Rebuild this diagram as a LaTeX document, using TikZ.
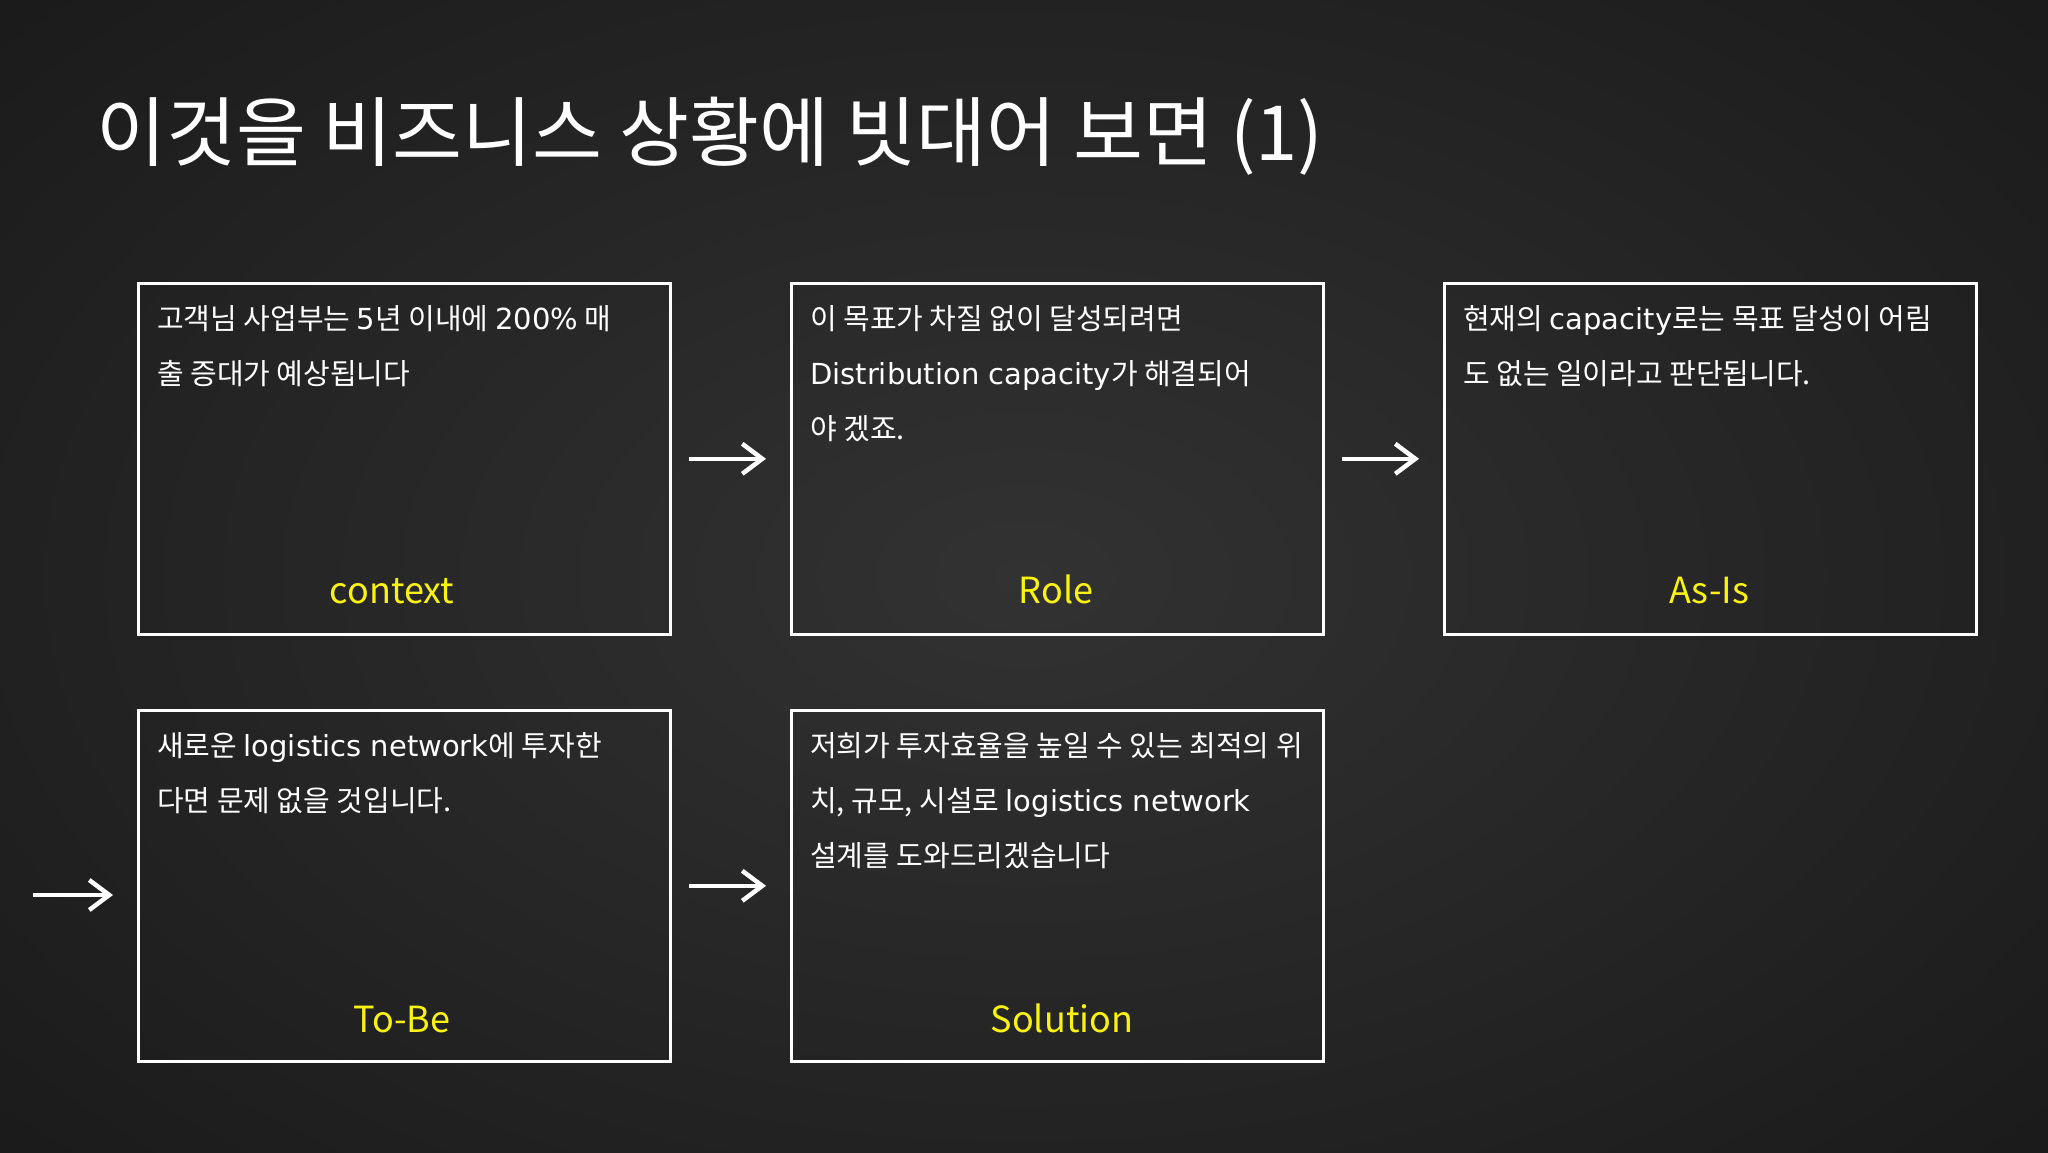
\documentclass[tikz,border=0pt]{standalone}
\usepackage{fontspec}
\setmainfont{Noto Sans CJK KR}
\newfontfamily\latinfont{DejaVu Sans}
\usetikzlibrary{arrows.meta,calc}
\definecolor{board}{RGB}{40,40,40}
\definecolor{boardin}{RGB}{50,50,50}
\definecolor{boardout}{RGB}{26,26,26}
\definecolor{chalkyellow}{RGB}{250,242,20}
\newcommand{\lt}[1]{{\latinfont #1}}
\tikzset{
  x=1pt,y=-1pt,
  panel/.style={draw=white,line width=2.6pt,minimum width=532pt,minimum height=351pt,anchor=north west,inner sep=0pt},
  bodytext/.style={anchor=north west,inner sep=0pt,align=left,text=white,font=\fontsize{29}{55}\selectfont},
  tag/.style={anchor=base,inner sep=0pt,text=chalkyellow,font=\fontsize{36}{40}\selectfont},
  chalkarrow/.style={draw=white,line width=4.5pt,-{Straight Barb[length=20pt,width=30pt,line width=4.5pt]}}
}
\begin{document}
\begin{tikzpicture}
\useasboundingbox (0,0) rectangle (2048,1152);
\fill[board] (0,0) rectangle (2048,1152);
\shade[inner color=boardin,outer color=boardout] (-400,-300) rectangle (2448,1452);
% title
\node[anchor=base west,inner sep=0pt,text=white,font=\fontsize{76}{80}\selectfont] (title) at (96,160) {이것을 비즈니스 상황에 빗대어 보면 (1)};
% boxes
\node[panel] (b1) at (137,282) {};
\node[panel] (b2) at (790,282) {};
\node[panel] (b3) at (1443,282) {};
\node[panel] (b4) at (137,709) {};
\node[panel] (b5) at (790,709) {};
% body texts
\node[bodytext] (t1) at (157,305) {고객님 사업부는 \lt{5}년 이내에 \lt{200\%} 매\\출 증대가 예상됩니다};
\node[bodytext] (t2) at (810,305) {이 목표가 차질 없이 달성되려면\\\lt{Distribution capacity}가 해결되어\\야 겠죠.};
\node[bodytext] (t3) at (1463,305) {현재의 \lt{capacity}로는 목표 달성이 어림\\도 없는 일이라고 판단됩니다.};
\node[bodytext] (t4) at (157,732) {새로운 \lt{logistics network}에 투자한\\다면 문제 없을 것입니다.};
\node[bodytext] (t5) at (810,732) {저희가 투자효율을 높일 수 있는 최적의 위\\치, 규모, 시설로 \lt{logistics network}\\설계를 도와드리겠습니다};
% tags
\node[tag] (l1) at (392,603) {context};
\node[tag] (l2) at (1056,603) {Role};
\node[tag] (l3) at (1709,603) {As-Is};
\node[tag] (l4) at (402,1032) {To-Be};
\node[tag] (l5) at (1062,1032) {Solution};
% arrows
\coordinate (in4) at (33,895);
\draw[chalkarrow] ($(b1.east)+(17,0)$) -- ($(b2.west)+(-24,0)$);
\draw[chalkarrow] ($(b2.east)+(17,0)$) -- ($(b3.west)+(-24,0)$);
\draw[chalkarrow] (in4) -- ($(b4.west |- in4)+(-24,0)$);
\draw[chalkarrow] ($(b4.east)+(17,0)$) -- ($(b5.west)+(-24,0)$);
\end{tikzpicture}
\end{document}
